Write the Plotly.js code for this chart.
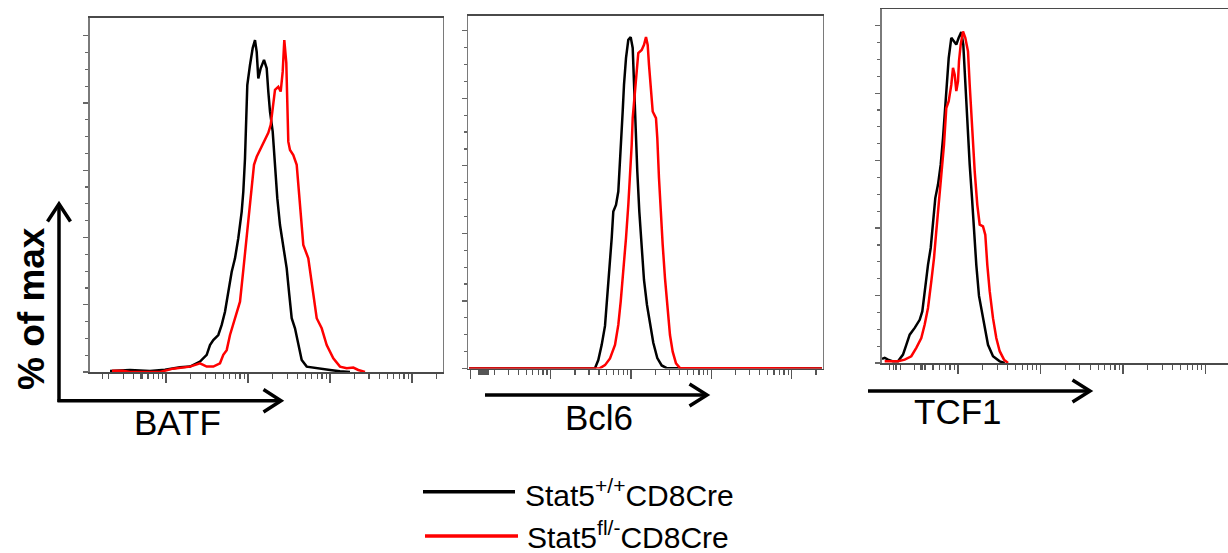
<!DOCTYPE html>
<html><head><meta charset="utf-8">
<script src="https://cdn.plot.ly/plotly-3.0.1.min.js"></script>
<style>html,body{margin:0;padding:0;background:#fff}#chart{width:1228px;height:553px}</style>
</head><body><div id="chart"></div>
<script>
// ---- labels ----
const seriesNames = ['Stat5<sup>+/+</sup>CD8Cre', 'Stat5<sup>fl/-</sup>CD8Cre'];
const seriesColors = ['#000000', '#ff0000'];
const panelLabels = ['BATF', 'Bcl6', 'TCF1'];
const yAxisLabel = '<b>% of max</b>';

// ---- data: x = log10 fluorescence, y = % of max ----
const batfCtrlX = [1.3155,1.5596,1.8036,1.9867,2.1698,2.2918,2.4138,2.4956,2.5359,2.5762,2.6372,2.6787,2.7189,2.7592,2.8007,2.841,2.8813,2.9227,2.9423,2.963,2.9752,2.9911,3.024,3.057,3.0851,3.1058,3.1253,3.1546,3.1949,3.2278,3.2474,3.2681,3.3011,3.3291,3.3572,3.3902,3.4304,3.4719,3.5037,3.533,3.5732,3.6135,3.655,3.716,3.838,4.0004,4.1224,4.2444];
const batfCtrlY = [0.3,0.6,0.3,0.7,1.4,1.6,3.1,5.1,8.0,9.5,11.0,14.0,17.9,23.9,29.8,33.8,39.8,47.7,53.6,63.5,73.5,85.3,91.3,96.3,98.7,95.2,87.3,90.3,92.8,90.3,83.4,77.4,71.5,61.6,51.7,43.7,37.8,30.8,22.9,16.0,13.0,8.0,3.6,1.6,1.1,0.6,0.2,0];
const batfKoX = [1.3399,1.4741,1.5596,1.9257,2.0843,2.2918,2.4138,2.4956,2.5762,2.6579,2.6982,2.7397,2.78,2.841,2.902,2.9423,2.9838,3.0155,3.0448,3.0729,3.1058,3.1668,3.2071,3.2474,3.2767,3.3011,3.3291,3.3694,3.3987,3.4231,3.4426,3.467,3.4817,3.4915,3.5122,3.5525,3.594,3.6342,3.6745,3.7355,3.7966,3.838,3.8991,3.9601,4.0406,4.1224,4.2042,4.2847,4.3457,4.4275];
const batfKoY = [0.4,0.4,0,0,1.0,1.6,2.6,1.6,1.6,2.6,5.1,6.5,11.0,16.0,20.9,30.3,40.7,47.7,55.6,61.6,64.0,67.2,69.5,71.1,73.5,78.4,83.9,84.8,83.4,89.3,98.7,91.9,77.9,68.5,66.0,64.5,61.6,50.6,37.8,33.8,23.9,16.0,13.0,8.0,4.1,1.6,1.1,1.3,0.6,0];

const bcl6CtrlX = [0.9832,2.5511,2.5922,2.6345,2.6756,2.7042,2.7378,2.759,2.7789,2.8125,2.8411,2.8622,2.8834,2.8958,2.912,2.9369,2.9655,2.9954,3.0203,3.0365,3.0526,3.0775,3.1024,3.1323,3.1609,3.1982,3.2356,3.2766,3.3264,3.3812,3.4434,5.3759];
const bcl6CtrlY = [0,0.1,2.5,7.0,12.6,20.8,30.7,38.6,46.5,48.4,52.4,60.3,68.2,76.1,84.0,91.9,97.3,98.1,94.9,84.0,72.1,58.3,46.5,36.6,26.2,18.8,12.9,7.6,3.1,0.9,0.1,0];
const bcl6KoX = [0.9832,2.6134,2.6756,2.7378,2.8,2.8411,2.871,2.9033,2.9369,2.9655,2.9867,3.0078,3.0203,3.0489,3.0701,3.09,3.1323,3.1609,3.1858,3.2069,3.2231,3.2443,3.2692,3.3102,3.3264,3.3476,3.3687,3.3936,3.4222,3.4508,3.4844,3.518,3.5591,3.6089,5.3759];
const bcl6KoY = [0,0.1,1.0,3.0,7.0,12.9,19.8,28.7,38.6,48.4,56.3,66.2,74.1,82.0,88.9,93.4,94.3,95.8,98.1,95.8,89.9,83.0,76.1,74.1,68.2,56.3,46.5,36.6,26.7,17.8,9.9,5.0,1.5,0.1,0];

const tcf1CtrlX = [1.08,1.1127,1.1527,1.2132,1.2738,1.3344,1.3744,1.4156,1.4761,1.5367,1.5682,1.5973,1.6373,1.67,1.6978,1.7257,1.7584,1.7911,1.819,1.8396,1.859,1.888,1.9196,1.9523,1.9801,2.0092,2.0407,2.0649,2.0892,2.1134,2.1425,2.1704,2.1946,2.2224,2.2551,2.3157,2.3642,2.4248,2.5059,2.5665];
const tcf1CtrlY = [1.2,1.5,1.0,0.5,0.5,2.5,5.4,8.4,10.4,12.8,15.3,21.3,29.1,34.1,41.0,48.9,52.9,58.8,66.7,74.6,82.5,90.4,96.4,95.4,94.4,96.4,98.1,94.4,82.5,70.7,58.8,48.9,39.1,29.1,19.9,11.4,5.4,2.0,0.5,0];
const tcf1KoX = [1.1127,1.2738,1.355,1.4349,1.4955,1.5561,1.5973,1.6373,1.6772,1.71,1.7378,1.7669,1.7984,1.8311,1.859,1.888,1.9196,1.9401,1.9608,1.9801,2.0007,2.0128,2.0334,2.0613,2.0892,2.1219,2.1425,2.1704,2.203,2.2345,2.2636,2.3036,2.3315,2.3557,2.3848,2.4248,2.4647,2.5059,2.558,2.6065];
const tcf1KoY = [0.5,0.5,1.0,2.0,4.5,7.4,11.4,16.3,24.2,31.1,39.1,46.9,54.9,64.7,75.6,77.6,82.5,87.5,85.5,80.6,83.5,89.5,94.4,98.3,96.4,92.4,82.5,68.7,56.8,46.9,41.0,40.5,38.0,29.1,21.3,13.3,7.4,3.5,1.0,0];

const yMajorTicks = [0,20,40,60,80,100];
const yMinorTicks = [5,10,15,25,30,35,45,50,55,65,70,75,85,90,95];
// extra dense ticks of the near-zero (linear) region, per panel
const batfZeroTicks = [1.22,1.685,1.695,1.705];
const bcl6ZeroTicks = [1.10,1.115,1.13,1.145,1.16,1.175,1.19,1.205,1.22];
const tcf1ZeroTicks = [1.17,1.22,1.25,1.55,1.56,1.57];

// ---- layout helpers ----
const W = 1228, H = 553;
const fx = v => v / W;
const fy = v => 1 - v / H;
const FONT = 'Arial, "Liberation Sans", sans-serif';

const xMajor = [1,2,3,4,5];
const xMinorLog = [];
for (let d = 1; d <= 5; d++) for (let k = 2; k <= 9; k++) xMinorLog.push(d + Math.log10(k));

const panels = [
  {ctrlX: batfCtrlX, ctrlY: batfCtrlY, koX: batfKoX, koY: batfKoY, zt: batfZeroTicks,
   xdom: [89.5, 442.5], ydom: [372, 17.7], xr: [1.0653, 5.3733], yr: [0, 105.35], mirrorY: true},
  {ctrlX: bcl6CtrlX, ctrlY: bcl6CtrlY, koX: bcl6KoX, koY: bcl6KoY, zt: bcl6ZeroTicks,
   xdom: [468.3, 822.7], ydom: [368.5, 15.7], xr: [0.9745, 5.3847], yr: [0, 104.44], mirrorY: true},
  {ctrlX: tcf1CtrlX, ctrlY: tcf1CtrlY, koX: tcf1KoX, koY: tcf1KoY, zt: tcf1ZeroTicks,
   xdom: [881.7, 1228], ydom: [363, 9.3], xr: [1.0763, 5.2719], yr: [0, 104.86], mirrorY: false}
];

const traces = [];
const layout = {
  width: W, height: H, margin: {l: 0, r: 0, t: 0, b: 0},
  paper_bgcolor: '#fff', plot_bgcolor: '#fff', showlegend: false,
  font: {family: FONT, color: '#000'},
  shapes: [], annotations: []
};

panels.forEach((p, i) => {
  const n = i === 0 ? '' : String(i + 1);
  traces.push({x: p.ctrlX, y: p.ctrlY, type: 'scatter', mode: 'lines', name: seriesNames[0],
    line: {color: seriesColors[0], width: 2.5}, xaxis: 'x' + n, yaxis: 'y' + n, hoverinfo: 'skip'});
  traces.push({x: p.koX, y: p.koY, type: 'scatter', mode: 'lines', name: seriesNames[1],
    line: {color: seriesColors[1], width: 2.5}, xaxis: 'x' + n, yaxis: 'y' + n, hoverinfo: 'skip'});
  layout['xaxis' + n] = {
    domain: [fx(p.xdom[0]), Math.min(1, fx(p.xdom[1]))], anchor: 'y' + n, range: p.xr,
    showline: true, linecolor: '#4a4a4a', linewidth: 1.6, mirror: true,
    showgrid: false, zeroline: false, showticklabels: false,
    tickmode: 'array', tickvals: xMajor, ticks: 'outside', ticklen: 9, tickwidth: 1.2, tickcolor: '#555',
    minor: {tickmode: 'array', tickvals: xMinorLog.concat(p.zt), ticks: 'outside', ticklen: 5, tickwidth: 1.2, tickcolor: '#555', showgrid: false}
  };
  layout['yaxis' + n] = {
    domain: [fy(p.ydom[0]), fy(p.ydom[1])], anchor: 'x' + n, range: p.yr,
    showline: true, linecolor: '#7a7a7a', linewidth: 1.6, mirror: p.mirrorY,
    showgrid: false, zeroline: false, showticklabels: false,
    tickmode: 'array', tickvals: yMajorTicks, ticks: 'outside', ticklen: 5, tickwidth: 1.2, tickcolor: '#666',
    minor: {tickmode: 'array', tickvals: yMinorTicks, ticks: 'outside', ticklen: 3, tickwidth: 1.2, tickcolor: '#666', showgrid: false}
  };
});

// arrows (decoration)
function seg(pts, color, width) {
  const d = pts.map((q, j) => (j ? 'L' : 'M') + fx(q[0]) + ',' + fy(q[1])).join(' ');
  layout.shapes.push({type: 'path', xref: 'paper', yref: 'paper', path: d,
    line: {color: color, width: width}});
}
const AW = 3.5;
seg([[59, 402], [59, 204]], '#000', AW);
seg([[47.5, 221.5], [59, 204], [70.5, 221.5]], '#000', AW);
seg([[57.5, 400.7], [281, 400.7]], '#000', AW);
seg([[263.5, 389.5], [281, 400.7], [263.5, 412]], '#000', AW);
seg([[485, 395], [707, 395]], '#000', AW);
seg([[689.5, 384], [707, 395], [689.5, 406]], '#000', AW);
seg([[868, 391], [1090, 391]], '#000', AW);
seg([[1072.5, 380], [1090, 391], [1072.5, 402]], '#000', AW);

// legend lines
seg([[423, 491.7], [515, 491.7]], seriesColors[0], 3.5);
seg([[425, 536], [518, 536]], seriesColors[1], 3.5);

function txt(t, x, y, size, opts) {
  layout.annotations.push(Object.assign({text: t, xref: 'paper', yref: 'paper', x: fx(x), y: fy(y),
    showarrow: false, xanchor: 'center', yanchor: 'middle',
    font: {family: FONT, size: size, color: '#000'}}, opts || {}));
}
txt(yAxisLabel, 31.7, 308.3, 37, {textangle: -90});
txt(panelLabels[0], 177.5, 422, 35);
txt(panelLabels[1], 598.5, 417, 35);
txt(panelLabels[2], 958, 411, 35);
txt(seriesNames[0], 522.5, 493, 30, {xanchor: 'left'});
txt(seriesNames[1], 524.5, 534.5, 30, {xanchor: 'left'});

Plotly.newPlot('chart', traces, layout, {staticPlot: true, displayModeBar: false});
</script>
</body></html>
